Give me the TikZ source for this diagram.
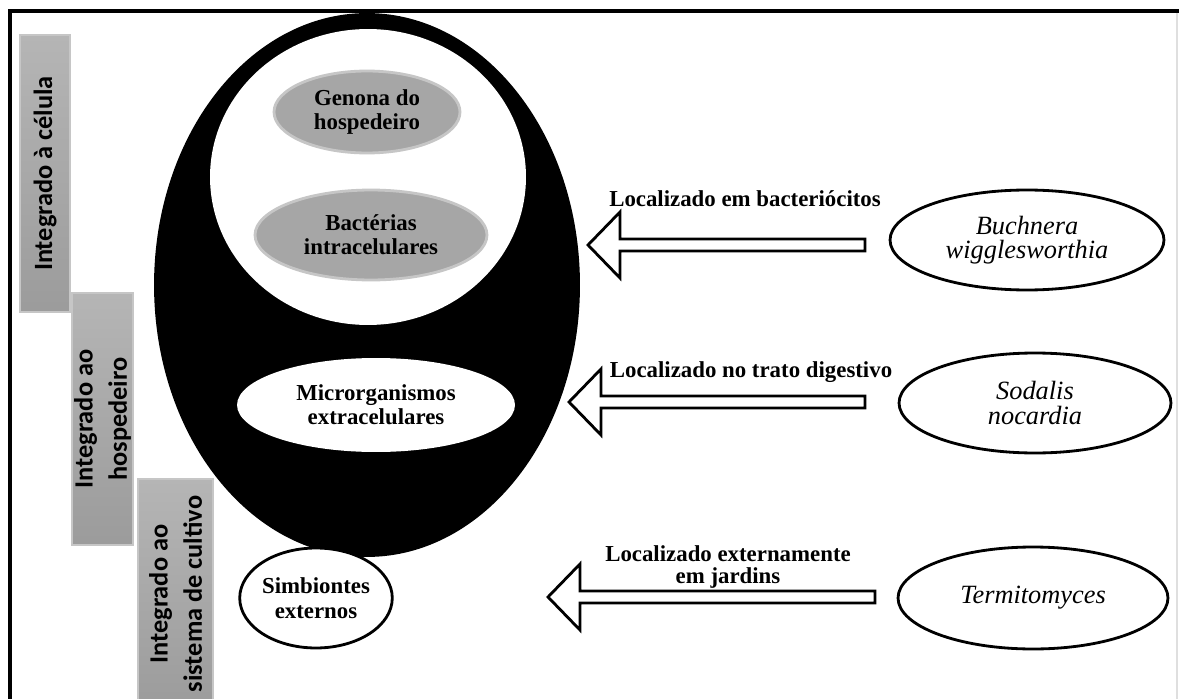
\documentclass[tikz,border=0pt]{standalone}
\usepackage{fontspec}
\setmainfont{Liberation Serif}
\newfontfamily\boxfont{Carlito}
\usetikzlibrary{shapes.geometric}

\begin{document}
\begin{tikzpicture}[
    x=0.02cm, y=-0.02cm,
    levelbox/.style={rectangle, rotate=90, inner sep=0pt, top color=gray!58, bottom color=gray!78,
        draw=gray!45, line width=0.6pt, align=center, font=\boxfont\bfseries\fontsize{15}{19.5}\selectfont},
    grayblob/.style={ellipse, inner sep=0pt, fill=gray!70, draw=gray!45, line width=1.6pt,
        align=center, font=\bfseries\fontsize{13}{13.5}\selectfont},
    whiteblob/.style={ellipse, inner sep=0pt, fill=white, align=center,
        font=\bfseries\fontsize{13}{13.5}\selectfont},
    species/.style={ellipse, inner sep=0pt, fill=white, draw=black, line width=1.6pt,
        align=center, font=\itshape\fontsize{15}{14}\selectfont},
    steplabel/.style={align=center, inner sep=0pt, font=\bfseries\fontsize{13}{12.5}\selectfont},
    blockarrow/.style={draw=black, fill=white, line width=1.6pt, line join=miter}
]
    \useasboundingbox (0,0) rectangle (1179,699);

    % frame
    \draw[line width=2.3pt] (1179,11) -- (10,11) -- (10,699);
    \draw[gray!25, line width=0.8pt] (1177,13) -- (1177,699);

    % levels of integration
    \node[levelbox, minimum width=5.54cm, minimum height=1.0cm] (lvcell) at (45,173.5) {Integrado à célula};
    \node[levelbox, minimum width=5.04cm, minimum height=1.22cm] (lvhost) at (102.5,419) {Integrado ao\\hospedeiro};
    \node[levelbox, minimum width=4.6cm, minimum height=1.5cm] (lvcult) at (175.5,594) {Integrado ao\\sistema de cultivo};

    % host
    \node[ellipse, fill=black, inner sep=0pt, minimum width=8.52cm, minimum height=10.88cm] (host) at (367,285) {};
    \node[whiteblob, minimum width=6.32cm, minimum height=5.92cm] (cell) at (368,177) {};
    \node[grayblob, minimum width=3.72cm, minimum height=1.64cm] (genome) at (367,112) {Genona do\\hospedeiro};
    \node[grayblob, minimum width=4.64cm, minimum height=1.8cm] (intra) at (371,235) {Bactérias\\intracelulares};
    \node[whiteblob, minimum width=5.56cm, minimum height=1.88cm] (extra) at (376,405) {Microrganismos\\extracelulares};
    \node[species, font=\bfseries\fontsize{13}{14}\selectfont, minimum width=2.78cm, minimum height=2.0cm] (ext) at (316,598) {Simbiontes\\externos};

    % symbionts
    \node[species, minimum width=5.48cm, minimum height=2.0cm] (buch) at (1027,240) {Buchnera\\wigglesworthia};
    \node[species, minimum width=5.44cm, minimum height=2.0cm] (soda) at (1035,403) {Sodalis\\nocardia};
    \node[species, minimum width=5.4cm, minimum height=2.04cm] (termi) at (1033,598) {Termitomyces};

    % arrows
    \foreach \tip/\y/\neck/\tail in {588/245/620/865, 569/402/601/865, 548/597/580/875}
        \draw[blockarrow] (\tip,\y) -- (\neck,\y-33) -- (\neck,\y-6) -- (\tail,\y-6)
            -- (\tail,\y+6) -- (\neck,\y+6) -- (\neck,\y+33) -- cycle;

    \node[steplabel] (lab1) at (745,199) {Localizado em bacteriócitos};
    \node[steplabel] (lab2) at (751,372) {Localizado no trato digestivo};
    \node[steplabel] (lab3) at (728,567) {Localizado externamente\\em jardins};
\end{tikzpicture}
\end{document}
